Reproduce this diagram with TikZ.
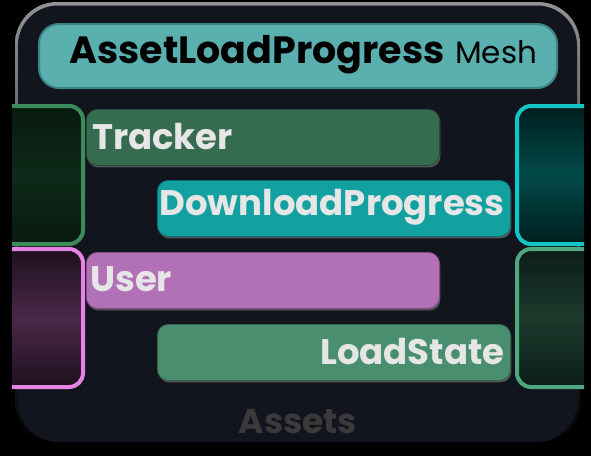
\documentclass[tikz,border=0pt]{standalone}
\usepackage{fontspec}
\setmainfont{Poppins}
\usetikzlibrary{shadows}
\definecolor{panel}{HTML}{12151D}
\definecolor{titlefill}{HTML}{5AAFAF}
\definecolor{titleborder}{HTML}{3B8585}
\definecolor{trackerc}{HTML}{356B4F}
\definecolor{downc}{HTML}{13A0A0}
\definecolor{userc}{HTML}{B271B6}
\definecolor{loadc}{HTML}{4A8E70}
\definecolor{lighttext}{HTML}{E6E6E6}
\definecolor{assetsc}{HTML}{3A3A3A}
\definecolor{lgdraw}{HTML}{3D8A5A}
\definecolor{lgdark}{HTML}{071A0E}
\definecolor{lgmid}{HTML}{0F2A1A}
\definecolor{lpdraw}{HTML}{E584E5}
\definecolor{lpdark}{HTML}{1E101E}
\definecolor{lpmid}{HTML}{4A2848}
\definecolor{rcdraw}{HTML}{12C6C6}
\definecolor{rcdark}{HTML}{001E1E}
\definecolor{rcmid}{HTML}{004A48}
\definecolor{rgdraw}{HTML}{4FA880}
\definecolor{rgdark}{HTML}{0C1E16}
\definecolor{rgmid}{HTML}{1C3A2C}
\tikzset{
  bar/.style={rectangle, rounded corners=11pt, anchor=north west, inner sep=0pt,
    minimum width=353pt, minimum height=56pt, draw=#1!70!black, line width=0.8pt, fill=#1,
    drop shadow={shadow xshift=1pt, shadow yshift=-2pt, opacity=0.6}},
  bartext/.style={text=lighttext, font=\bfseries\fontsize{35.5}{40}\selectfont, inner sep=0pt},
  sideblock/.style={rectangle, rounded corners=14pt, anchor=north west, inner sep=0pt,
    minimum width=91pt, minimum height=138pt, line width=4pt}
}
\begin{document}
\begin{tikzpicture}[x=1pt,y=-1pt]
\useasboundingbox (0,0) rectangle (591,456);
\fill[black] (0,0) rectangle (591,456);
% outer panel
\shade[top color=gray!85, bottom color=black, rounded corners=42pt] (15,2) rectangle (580,445);
\fill[panel, rounded corners=40pt] (18,5.5) rectangle (577,442);
% title bar
\node[rectangle, rounded corners=20pt, anchor=north west, minimum width=518pt, minimum height=64pt,
  fill=titlefill, draw=titleborder, line width=2pt, inner sep=0pt] (title) at (38,23) {};
\node[anchor=base west, inner sep=0pt, font=\bfseries\fontsize{38}{42}\selectfont, text=black] (titletext) at (69,63) {AssetLoadProgress};
\node[anchor=base west, inner sep=0pt, font=\fontsize{31}{34}\selectfont, text=black] (mesh) at (455,63) {Mesh};
% side blocks (clipped)
\begin{scope}
\clip (12,0) rectangle (584,456);
\node[sideblock, draw=lgdraw, top color=lgdark, bottom color=lgdark, middle color=lgmid] at (-10,104) (lg) {};
\node[sideblock, draw=lpdraw, top color=lpdark, bottom color=lpdark, middle color=lpmid] at (-10,247) (lp) {};
\node[sideblock, draw=rcdraw, top color=rcdark, bottom color=rcdark, middle color=rcmid] at (515,104) (rc) {};
\node[sideblock, draw=rgdraw, top color=rgdark, bottom color=rgdark, middle color=rgmid] at (515,247) (rg) {};
\end{scope}
% bars
\node[bar=trackerc] (tracker) at (86,109) {};
\node[bartext, anchor=west] (trackert) at ([xshift=6pt,yshift=1pt]tracker.west) {Tracker};
\node[bar=downc] (down) at (157,180) {};
\node[bartext, anchor=east] (downt) at ([xshift=-6pt,yshift=1pt]down.east) {DownloadProgress};
\node[bar=userc] (user) at (86,252) {};
\node[bartext, anchor=west] (usert) at ([xshift=4pt,yshift=1pt]user.west) {User};
\node[bar=loadc] (load) at (157,324) {};
\node[bartext, anchor=east] (loadt) at ([xshift=-6pt,yshift=1pt]load.east) {LoadState};
% assets label
\node[anchor=base, inner sep=0pt, text=assetsc, font=\bfseries\fontsize{34.5}{38}\selectfont] (assets) at (298,433) {Assets};
\end{tikzpicture}
\end{document}
